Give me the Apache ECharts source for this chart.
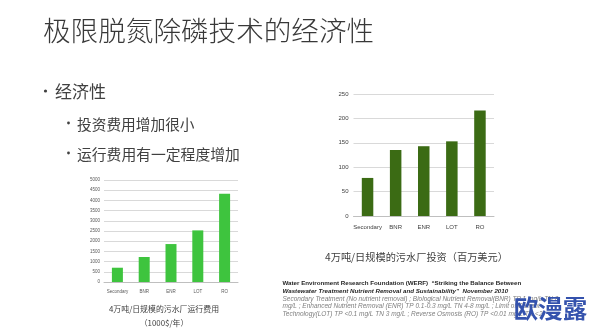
<!DOCTYPE html>
<html>
<head>
<meta charset="utf-8">
<script src="https://cdn.jsdelivr.net/npm/echarts@6/dist/echarts.min.js"></script>
<style>
  html, body { margin: 0; padding: 0; background: #ffffff; }
  #main { width: 594px; height: 331px; }
</style>
</head>
<body>
<div id="main"></div>
<script>
// Treatment levels compared in both charts
const categories = ['Secondary', 'BNR', 'ENR', 'LOT', 'RO'];
// Annual operating cost, 1000 $/year
const operatingCost = [700, 1225, 1860, 2530, 4330];
// Capital investment, million US$
const investment = [78, 135, 143, 153, 216];
// Value-axis ticks
const costTicks = [0, 500, 1000, 1500, 2000, 2500, 3000, 3500, 4000, 4500, 5000];
const investTicks = [0, 50, 100, 150, 200, 250];

const cjk = '"Noto Sans CJK SC", "Noto Sans", sans-serif';
const narrow = '"Liberation Sans Narrow", "Liberation Sans", sans-serif';

function txt(text, x, y, size, color, opts) {
  opts = opts || {};
  return {
    type: 'text', x: x, y: y, z: opts.z || 10,
    style: {
      text: text,
      fill: color,
      font: (opts.style || '') + ' ' + (opts.weight || 'normal') + ' ' + size + 'px ' + (opts.family || cjk),
      align: opts.align || 'left',
      verticalAlign: 'middle'
    }
  };
}

function dot(x, y, r) {
  return { type: 'circle', shape: { cx: x, cy: y, r: r }, style: { fill: '#404040' }, z: 10 };
}

const chart = echarts.init(document.getElementById('main'), null, { renderer: 'canvas' });

const axisLabelSmall = (size) => ({ fontSize: size, color: '#595959', fontFamily: narrow });
const plain = (v) => String(v);

chart.setOption({
  animation: false,
  backgroundColor: '#ffffff',
  grid: [
    { left: 104, top: 180, width: 134, height: 102 },
    { left: 353.5, top: 94, width: 140.5, height: 122 }
  ],
  xAxis: [
    {
      gridIndex: 0, type: 'category', data: categories,
      axisLine: { lineStyle: { color: '#bfbfbf', width: 1 } },
      axisTick: { show: false },
      axisLabel: Object.assign(axisLabelSmall(4.5), { margin: 7, interval: 0 })
    },
    {
      gridIndex: 1, type: 'category', data: categories,
      axisLine: { lineStyle: { color: '#bfbfbf', width: 1 } },
      axisTick: { show: false },
      axisLabel: Object.assign(axisLabelSmall(6), { margin: 8, interval: 0, color: '#404040' })
    }
  ],
  yAxis: [
    {
      gridIndex: 0, type: 'value', min: costTicks[0], max: costTicks[costTicks.length - 1], interval: 500,
      axisLine: { show: false }, axisTick: { show: false },
      splitLine: { lineStyle: { color: '#d9d9d9', width: 1 } },
      axisLabel: Object.assign(axisLabelSmall(4.5), { margin: 4, formatter: plain })
    },
    {
      gridIndex: 1, type: 'value', min: investTicks[0], max: investTicks[investTicks.length - 1], interval: 50,
      axisLine: { show: false }, axisTick: { show: false },
      splitLine: { lineStyle: { color: '#d9d9d9', width: 1 } },
      axisLabel: Object.assign(axisLabelSmall(6), { margin: 5, color: '#404040', formatter: plain })
    }
  ],
  series: [
    {
      type: 'bar', xAxisIndex: 0, yAxisIndex: 0, data: operatingCost,
      barWidth: 11, itemStyle: { color: '#3ec43e' }
    },
    {
      type: 'bar', xAxisIndex: 1, yAxisIndex: 1, data: investment,
      barWidth: 11.5, itemStyle: { color: '#3b6b14' }
    }
  ],
  graphic: [
    txt('极限脱氮除磷技术的经济性', 43, 31, 27.6, '#383838', { weight: 300 }),
    dot(45.5, 91, 1.6),
    txt('经济性', 55, 92, 17, '#404040'),
    dot(68.5, 123, 1.4),
    txt('投资费用增加很小', 77, 124, 14.7, '#404040'),
    dot(68.5, 153, 1.4),
    txt('运行费用有一定程度增加', 77, 154, 14.8, '#404040'),
    txt('4万吨/日规模的污水厂运行费用', 164, 309, 7.9, '#404040', { align: 'center' }),
    txt('（1000$/年）', 164, 322.5, 7.9, '#404040', { align: 'center' }),
    txt('4万吨/日规模的污水厂投资（百万美元）', 416.5, 256.7, 10.2, '#404040', { align: 'center' }),
    txt('Water Environment Research Foundation (WERF)  \u201cStriking the Balance Between', 282.5, 283.3, 6.2, '#262626', { weight: 'bold', family: narrow }),
    txt('Wastewater Treatment Nutrient Removal and Sustainability\u201d  November 2010', 282.5, 291, 6.2, '#262626', { weight: 'bold', style: 'italic', family: narrow }),
    txt('Secondary Treatment (No nutrient removal) ; Biological Nutrient Removal(BNR) TP 1 mg/L TN 8 ', 282.5, 298.7, 6.5, '#7f7f7f', { style: 'italic', family: narrow }),
    txt('mg/L ; Enhanced Nutrient Removal (ENR) TP 0.1-0.3 mg/L TN 4-8 mg/L ; Limit of Current', 282.5, 306.4, 6.5, '#7f7f7f', { style: 'italic', family: narrow }),
    txt('Technology(LOT) TP <0.1 mg/L TN 3 mg/L ; Reverse Osmosis (RO) TP <0.01 mg/L TN <2', 282.5, 314, 6.5, '#7f7f7f', { style: 'italic', family: narrow }),
    txt('欧漫露', 550.5, 308.5, 24.5, '#3452ad', { align: 'center', weight: 'bold', z: 20 })
  ]
});
</script>
</body>
</html>
